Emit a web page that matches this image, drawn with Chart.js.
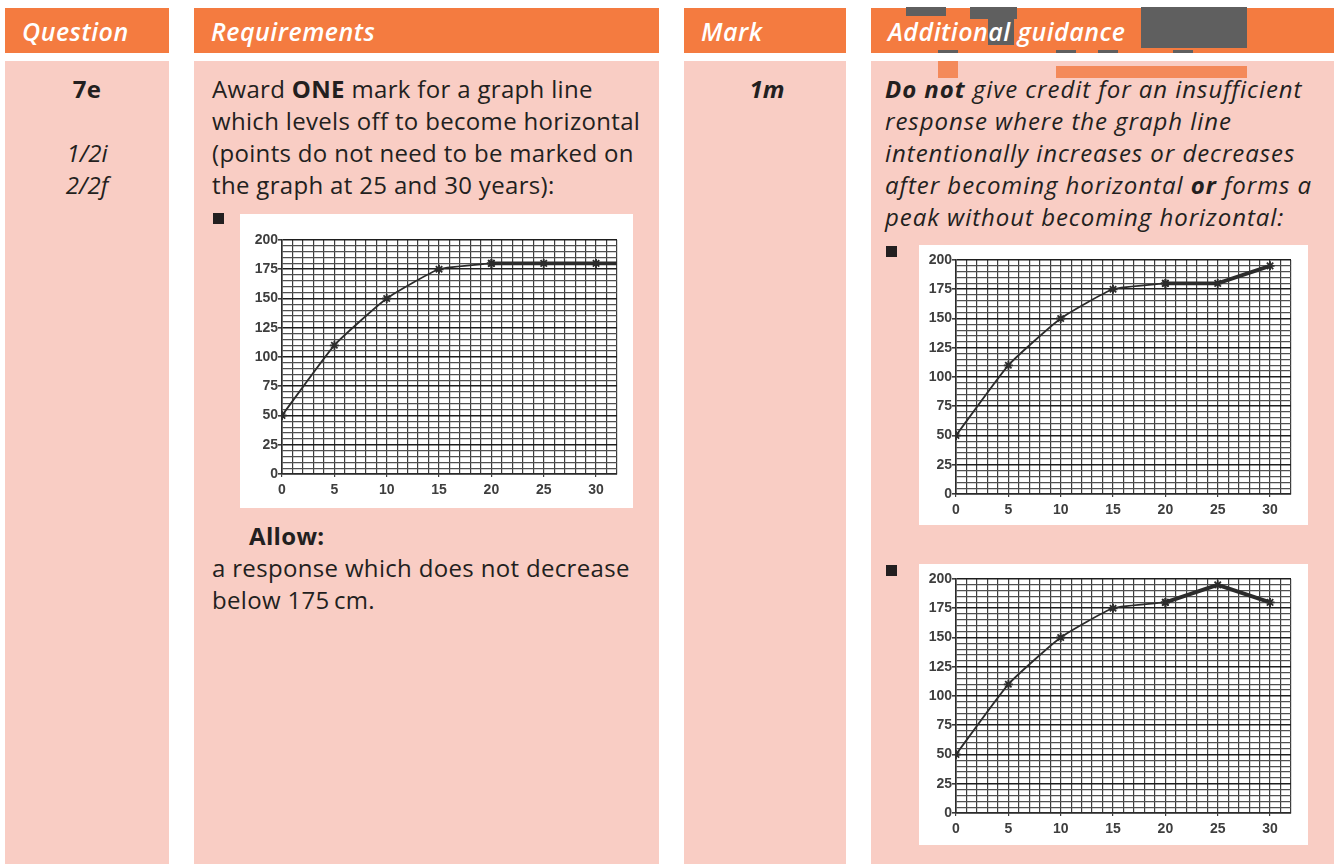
<!DOCTYPE html>
<html>
<head>
<meta charset="utf-8">
<script src="https://cdn.jsdelivr.net/npm/chart.js@4/dist/chart.umd.min.js"></script>
<style>
  html, body { margin: 0; padding: 0; background: #fff; }
  body { width: 1334px; height: 864px; position: relative; overflow: hidden;
         font-family: "Open Sans", "Noto Sans", sans-serif; color: #231f20; }
  .hd { position: absolute; top: 8px; height: 45px; background: #f47b40; color: #fff;
        font-style: italic; font-weight: 600; font-size: 25px; line-height: 46px; padding-left: 17px;
        box-sizing: border-box; letter-spacing: 0.5px; }
  .hd span { position: relative; z-index: 2; }
  .col { position: absolute; top: 61px; bottom: 0; background: #f9cdc4; }
  .txt { position: absolute; font-size: 24px; line-height: 32px; white-space: nowrap; letter-spacing: 0.33px; }
  .it { font-style: italic; letter-spacing: 0.95px; }
  .bullet { position: absolute; width: 11px; height: 11px; background: #231f20; }
  .box { position: absolute; background: #fff; }
  .box canvas { display: block; }
  .art { position: absolute; z-index: 1; }
</style>
</head>
<body>
<div class="hd" style="left:5px;width:164px;"><span>Question</span></div>
<div class="hd" style="left:194px;width:465px;"><span>Requirements</span></div>
<div class="hd" style="left:684px;width:162px;"><span>Mark</span></div>
<div class="hd" style="left:871px;width:463px;"><span>Additional guidance</span></div>

<div class="col" style="left:5px;width:164px;"></div>
<div class="col" style="left:194px;width:465px;"></div>
<div class="col" style="left:684px;width:162px;"></div>
<div class="col" style="left:871px;width:463px;"></div>

<!-- scan artefacts in the last header -->
<div class="art" style="left:1141px;top:7px;width:106px;height:41px;background:#5f5f5f;"></div>
<div class="art" style="left:970px;top:7px;width:47px;height:12px;background:#5f5f5f;"></div>
<div class="art" style="left:988px;top:19px;width:26px;height:26px;background:#5f5f5f;"></div>
<div class="art" style="left:906px;top:7px;width:40px;height:9px;background:#5f5f5f;"></div>
<div class="art" style="left:938px;top:50px;width:20px;height:3px;background:#5f5f5f;"></div>
<div class="art" style="left:1056px;top:50px;width:20px;height:3px;background:#5f5f5f;"></div>
<div class="art" style="left:1098px;top:50px;width:20px;height:3px;background:#5f5f5f;"></div>
<div class="art" style="left:1173px;top:50px;width:20px;height:3px;background:#5f5f5f;"></div>
<div class="art" style="left:938px;top:61px;width:20px;height:17px;background:#f48a5a;"></div>
<div class="art" style="left:1056px;top:66px;width:191px;height:12px;background:#f48a5a;"></div>

<div class="txt" style="left:0;width:174px;top:73px;text-align:center;font-weight:700;">7e</div>
<div class="txt it" style="left:0;width:174px;top:137px;text-align:center;letter-spacing:0;">1/2i<br>2/2f</div>

<div class="txt" style="left:212px;top:73px;">Award <b>ONE</b> mark for a graph line<br>which levels off to become horizontal<br>(points do not need to be marked on<br>the graph at 25 and 30 years):</div>
<div class="bullet" style="left:213px;top:213px;"></div>
<div class="box" style="left:240px;top:214px;width:393px;height:294px;"><canvas id="c1" width="393" height="294"></canvas></div>
<div class="txt" style="left:249px;top:520px;font-weight:700;">Allow:</div>
<div class="txt" style="left:212px;top:552px;">a response which does not decrease<br>below 175&#8201;cm.</div>

<div class="txt" style="left:684px;width:166px;top:73px;text-align:center;font-weight:700;font-style:italic;letter-spacing:0;">1m</div>

<div class="txt it" style="left:885px;top:73px;"><b>Do not</b> give credit for an insufficient<br>response where the graph line<br>intentionally increases or decreases<br>after becoming horizontal <b>or</b> forms a<br>peak without becoming horizontal:</div>
<div class="bullet" style="left:886px;top:246px;"></div>
<div class="box" style="left:919px;top:245px;width:389px;height:280px;"><canvas id="c2" width="389" height="280"></canvas></div>
<div class="bullet" style="left:886px;top:565px;"></div>
<div class="box" style="left:919px;top:564px;width:389px;height:281px;"><canvas id="c3" width="389" height="281"></canvas></div>

<script>
// height (cm) against age (years)
const ages = [0, 5, 10, 15, 20];
const growth = [50, 110, 150, 175, 180];

// chart 1: line levels off and runs to the edge of the grid
const levelAges = [20, 25, 30, 32];
const levelHeights = [180, 180, 180, 180];
const levelMarked = [true, true, true, false];

// chart 2: horizontal then rises again
const riseAges = [20, 25, 30];
const riseHeights = [180, 180, 195];

// chart 3: peaks without becoming horizontal
const peakAges = [20, 25, 30];
const peakHeights = [180, 195, 180];

const xMax = 32;
const yMax = 200;
const xLabelEvery = 5;
const yLabelEvery = 25;

const INK = '#2b2b2b';
const GRID = '#3c3c3c';
const TICK_FONT = { family: 'Liberation Sans', size: 14, weight: 'bold' };

function pairs(xs, ys) {
  return xs.map((x, i) => ({ x, y: ys[i] }));
}

function makeChart(id, tailAges, tailHeights, tailMarked, pad) {
  const canvas = document.getElementById(id);
  return new Chart(canvas, {
    type: 'line',
    data: {
      datasets: [
        {
          data: pairs(ages, growth),
          borderColor: INK,
          borderWidth: 1.8,
          tension: 0.15,
          pointStyle: 'star',
          pointRadius: 4.5,
          pointBorderWidth: 1.8,
          pointBorderColor: INK,
        },
        {
          data: pairs(tailAges, tailHeights),
          borderColor: INK,
          borderWidth: 3.8,
          tension: 0,
          pointStyle: 'star',
          pointRadius: tailMarked ? tailMarked.map((m) => (m ? 4.5 : 0)) : 4.5,
          pointBorderWidth: 1.8,
          pointBorderColor: INK,
        },
      ],
    },
    options: {
      responsive: false,
      animation: false,
      layout: { padding: { left: 0, right: pad.right, top: pad.top, bottom: 0 } },
      plugins: { legend: { display: false }, tooltip: { enabled: false } },
      scales: {
        x: {
          type: 'linear',
          min: 0,
          max: xMax,
          afterFit: (s) => { s.height = pad.bottom; },
          afterBuildTicks: (s) => {
            s.ticks = [];
            for (let v = 0; v <= xMax; v += 1) s.ticks.push({ value: v });
          },
          ticks: {
            autoSkip: false,
            maxRotation: 0,
            padding: 5,
            color: '#3e3e3e',
            font: TICK_FONT,
            callback: (v) => (v % xLabelEvery === 0 && v <= 30 ? String(v) : ''),
          },
          grid: {
            color: GRID,
            lineWidth: 1.2,
            tickLength: 3,
            tickColor: (ctx) => (ctx.tick && ctx.tick.value % xLabelEvery === 0 ? GRID : 'rgba(0,0,0,0)'),
          },
          border: { color: INK, width: 1.6 },
        },
        y: {
          min: 0,
          max: yMax,
          afterFit: (s) => { s.width = pad.left; },
          afterBuildTicks: (s) => {
            s.ticks = [];
            for (let v = 0; v <= yMax; v += 5) s.ticks.push({ value: v });
          },
          ticks: {
            autoSkip: false,
            padding: 0,
            color: '#3e3e3e',
            font: TICK_FONT,
            callback: (v) => (v % yLabelEvery === 0 ? String(v) : ''),
          },
          grid: {
            color: (ctx) => (ctx.tick && ctx.tick.value % yLabelEvery === 0 ? '#1e1e1e' : '#505050'),
            lineWidth: (ctx) => (ctx.tick && ctx.tick.value % yLabelEvery === 0 ? 1.6 : 1.3),
            tickLength: 4,
            tickColor: (ctx) => (ctx.tick && ctx.tick.value % yLabelEvery === 0 ? GRID : 'rgba(0,0,0,0)'),
          },
          border: { color: INK, width: 1.6 },
        },
      },
    },
  });
}

makeChart('c1', levelAges, levelHeights, levelMarked, { left: 42, right: 16, top: 26, bottom: 34 });
makeChart('c2', riseAges, riseHeights, null, { left: 37, right: 17, top: 15, bottom: 31 });
makeChart('c3', peakAges, peakHeights, null, { left: 37, right: 17, top: 15, bottom: 32 });
</script>
</body>
</html>
